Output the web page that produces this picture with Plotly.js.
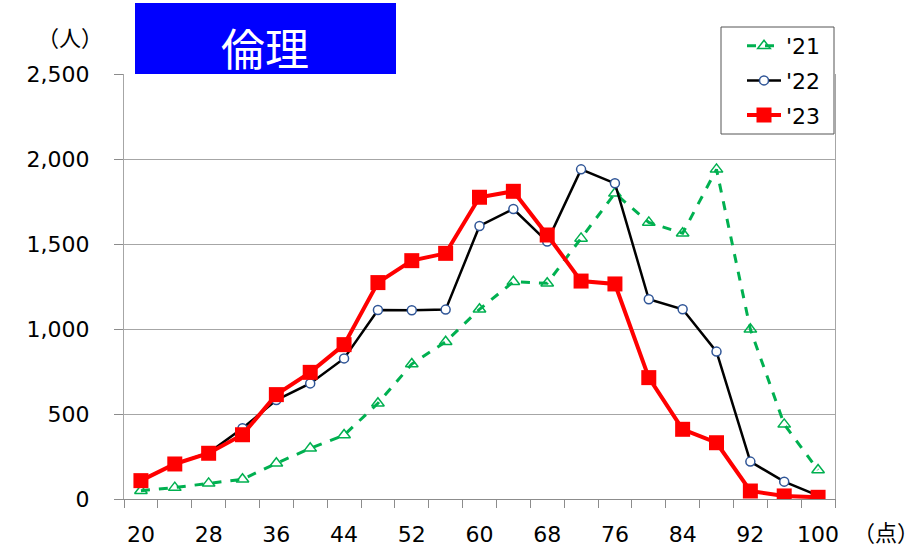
<!DOCTYPE html>
<html>
<head>
<meta charset="utf-8">
<script src="https://cdn.plot.ly/plotly-3.0.1.min.js"></script>
<style>html,body{margin:0;padding:0;background:#fff;}#chart{width:924px;height:549px;}</style>
</head>
<body>
<div id="chart"></div>
<script>
const scores = [20,24,28,32,36,40,44,48,52,56,60,64,68,72,76,80,84,88,92,96,100];
const y21 = [49,67,92,116,210,298,376,563,794,925,1116,1278,1269,1533,1798,1627,1563,1939,998,439,171];
const y22 = [110,205,272,416,582,680,827,1112,1110,1114,1606,1706,1514,1939,1857,1175,1116,867,220,102,20];
const y23 = [108,206,269,378,614,745,908,1273,1402,1445,1775,1810,1553,1282,1265,714,410,331,47,18,10];
const seriesNames = ["'21","'22","'23"];
const xTickLabels = [20,28,36,44,52,60,68,76,84,92,100];
const yTicks = [0,500,1000,1500,2000,2500];
const titleText = "倫理";
const yUnit = "（人）";
const xUnit = "（点）";

const numFont = "DejaVu Sans, Verdana, sans-serif";
const cjkFont = "Noto Sans CJK JP, sans-serif";

const px = v => (v - 124) / 711;
const py = v => (499 - v) / 425;

const traces = [
  {x: scores, y: y21, name: seriesNames[0], type: 'scatter', mode: 'lines+markers', legendgroup: 'a',
   line: {color: '#00B050', width: 3, dash: 'dash'},
   marker: {symbol: 'triangle-up-open', size: 11, color: '#00B050', line: {width: 1.5, color: '#00B050'}}},
  {x: scores, y: y22, name: seriesNames[1], type: 'scatter', mode: 'lines+markers', legendgroup: 'b',
   line: {color: '#000000', width: 2.5},
   marker: {symbol: 'circle', size: 9, color: '#FFFFFF', line: {width: 1.5, color: '#2F5597'}}},
  {x: scores, y: y23, name: seriesNames[2], type: 'scatter', mode: 'lines+markers', legendgroup: 'c',
   line: {color: '#FF0000', width: 4},
   marker: {symbol: 'square', size: 15, color: '#FF0000'}}
];

const layout = {
  width: 924, height: 549,
  margin: {l: 124, r: 89, t: 74, b: 50},
  paper_bgcolor: '#FFFFFF', plot_bgcolor: '#FFFFFF',
  showlegend: true,
  legend: {x: px(742), xanchor: 'left', y: py(25), yanchor: 'top',
    bgcolor: 'rgba(0,0,0,0)', borderwidth: 0, itemwidth: 34,
    font: {family: numFont, size: 22, color: '#000'}, traceorder: 'grouped', tracegroupgap: 3},
  xaxis: {range: [18, 102], tickmode: 'array', tickvals: xTickLabels, ticktext: xTickLabels.map(String),
    ticks: '', showgrid: false, zeroline: false, showline: true, linecolor: '#8C8C8C', linewidth: 1,
    tickfont: {family: numFont, size: 22, color: '#000'}, ticklabelstandoff: 16,
    minor: {tickmode: 'linear', tick0: 18, dtick: 4, ticks: 'outside', ticklen: 8, tickcolor: '#8C8C8C', tickwidth: 1, showgrid: false},
    fixedrange: true},
  yaxis: {range: [0, 2500], tickmode: 'array', tickvals: yTicks, tickformat: ',',
    ticks: 'outside', ticklen: 9, tickcolor: '#8C8C8C', showgrid: true, gridcolor: '#A6A6A6', gridwidth: 1,
    zeroline: false, showline: true, mirror: true, linecolor: '#A6A6A6', linewidth: 1,
    tickfont: {family: numFont, size: 22, color: '#000'}, ticklabelstandoff: 20, fixedrange: true},
  shapes: [
    {type: 'rect', xref: 'paper', yref: 'paper', x0: px(135), x1: px(396), y0: 1, y1: py(3),
     fillcolor: '#0000FF', line: {width: 0}, layer: 'above'},
    {type: 'rect', xref: 'paper', yref: 'paper', x0: px(721), x1: px(834), y0: py(134), y1: py(27),
     fillcolor: '#FFFFFF', line: {width: 1, color: '#555555'}, layer: 'above'}
  ],
  annotations: [
    {text: titleText, xref: 'paper', yref: 'paper', x: px(265), y: py(47), xanchor: 'center', yanchor: 'middle',
     showarrow: false, font: {family: cjkFont, size: 44, color: '#FFFFFF'}},
    {text: yUnit, xref: 'paper', yref: 'paper', x: px(70), y: py(36), xanchor: 'center', yanchor: 'middle',
     showarrow: false, font: {family: cjkFont, size: 22, color: '#000'}},
    {text: xUnit, xref: 'paper', yref: 'paper', x: px(886), y: py(531), xanchor: 'center', yanchor: 'middle',
     showarrow: false, font: {family: cjkFont, size: 22, color: '#000'}}
  ]
};

Plotly.newPlot('chart', traces, layout, {displayModeBar: false, staticPlot: true});
</script>
</body>
</html>
